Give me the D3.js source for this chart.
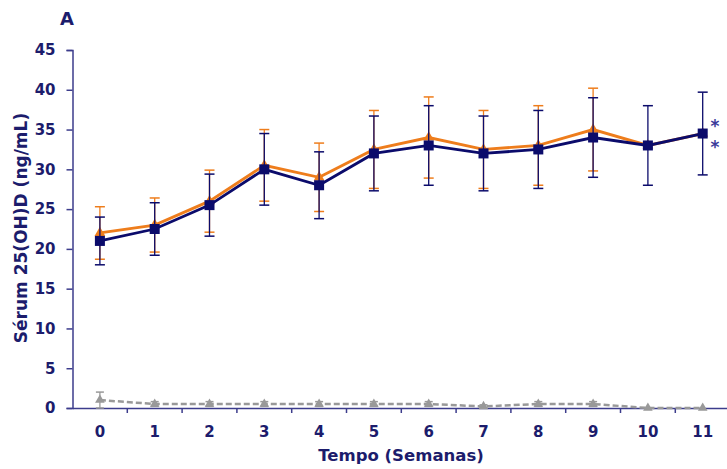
<!DOCTYPE html>
<html>
<head>
<meta charset="utf-8">
<script src="https://cdn.jsdelivr.net/npm/d3@7"></script>
<style>
  body { margin: 0; background: #fff; }
  text { font-family: "DejaVu Sans", Verdana, sans-serif; font-weight: bold; }
</style>
</head>
<body>
<svg id="chart" width="727" height="469"></svg>
<script>
var weeks = [0, 1, 2, 3, 4, 5, 6, 7, 8, 9, 10, 11];
var yTicks = [0, 5, 10, 15, 20, 25, 30, 35, 40, 45];

// serie azul (quadrados)
var navyMean = [21, 22.5, 25.5, 30, 28, 32, 33, 32, 32.5, 34, 33, 34.5];
var navyErr  = [3, 3.3, 3.9, 4.5, 4.2, 4.7, 5, 4.7, 4.9, 5, 5, 5.2];
// serie laranja (triangulos)
var orangeMean = [22, 23, 26, 30.5, 29, 32.5, 34, 32.5, 33, 35, 33, 34.5];
var orangeErr  = [3.3, 3.4, 3.9, 4.5, 4.3, 4.9, 5.1, 4.9, 5, 5.2, 0, 0];
// serie cinza (placebo)
var grayMean = [1, 0.5, 0.5, 0.5, 0.5, 0.5, 0.5, 0.2, 0.5, 0.5, 0, 0];
var grayErr  = [1, 0.3, 0.3, 0.3, 0.3, 0.3, 0.3, 0.2, 0.3, 0.3, 0, 0];

var svg = d3.select('#chart');
var mLeft = 72.5, mTop = 50, mBottom = 408;
var step = 54.8;

var x = d3.scaleBand()
  .domain(weeks)
  .range([mLeft, mLeft + step * weeks.length])
  .paddingInner(0);
var xc = function (d) { return x(d) + x.bandwidth() / 2; };

var y = d3.scaleLinear().domain([0, 45]).range([mBottom, mTop]);

var axisColor = '#3c3c8c';
var labelColor = '#1c1c6c';

// eixo y
var yAxis = svg.append('g')
  .attr('transform', 'translate(' + mLeft + ',0)')
  .call(d3.axisLeft(y).tickValues(yTicks).tickSize(6).tickPadding(11));
yAxis.select('.domain').attr('stroke', axisColor).attr('stroke-width', 1.5);
yAxis.selectAll('.tick line').attr('stroke', axisColor).attr('stroke-width', 1.5);
yAxis.selectAll('text')
  .attr('fill', labelColor)
  .style('font-size', '15px');

// eixo x
var xAxis = svg.append('g')
  .attr('transform', 'translate(0,' + mBottom + ')')
  .call(d3.axisBottom(x).tickSize(0).tickPadding(18));
xAxis.select('.domain').attr('stroke', axisColor).attr('stroke-width', 1.5);
xAxis.selectAll('text')
  .attr('fill', labelColor)
  .style('font-size', '15px');

// marcas do eixo x nos limites das categorias
xAxis.selectAll('.bound')
  .data(weeks.slice(1))
  .enter().append('line')
  .attr('class', 'bound')
  .attr('x1', function (d) { return x(d); })
  .attr('x2', function (d) { return x(d); })
  .attr('y1', 0)
  .attr('y2', 5)
  .attr('stroke', axisColor)
  .attr('stroke-width', 1.5);

var line = function (vals) {
  return d3.line()
    .x(function (d, i) { return xc(weeks[i]); })
    .y(function (d) { return y(d); })(vals);
};

function errorBars(mean, err, color, cap) {
  var g = svg.append('g');
  weeks.forEach(function (w, i) {
    if (!err[i]) return;
    var cx = xc(w);
    g.append('line')
      .attr('x1', cx).attr('x2', cx)
      .attr('y1', y(mean[i] + err[i])).attr('y2', y(mean[i] - err[i]))
      .attr('stroke', color).attr('stroke-width', 1.3);
    [mean[i] + err[i], mean[i] - err[i]].forEach(function (v) {
      g.append('line')
        .attr('x1', cx - cap).attr('x2', cx + cap)
        .attr('y1', y(v)).attr('y2', y(v))
        .attr('stroke', color).attr('stroke-width', 1.5);
    });
  });
}

var navy = '#0b0b6b';
var orange = '#ee7d1c';
var gray = '#999999';

// cinza
errorBars(grayMean, grayErr, gray, 4);
svg.append('path')
  .attr('d', line(grayMean))
  .attr('fill', 'none')
  .attr('stroke', gray)
  .attr('stroke-width', 2.5)
  .attr('stroke-dasharray', '6,3');
svg.append('g').selectAll('path')
  .data(grayMean)
  .enter().append('path')
  .attr('d', d3.symbol(d3.symbolTriangle, 40))
  .attr('transform', function (d, i) { return 'translate(' + xc(weeks[i]) + ',' + y(d) + ')'; })
  .attr('fill', gray);

// laranja
errorBars(orangeMean, orangeErr, orange, 5);
svg.append('path')
  .attr('d', line(orangeMean))
  .attr('fill', 'none')
  .attr('stroke', orange)
  .attr('stroke-width', 2.8);
svg.append('g').selectAll('path')
  .data(orangeMean)
  .enter().append('path')
  .attr('d', d3.symbol(d3.symbolTriangle, 50))
  .attr('transform', function (d, i) { return 'translate(' + xc(weeks[i]) + ',' + y(d) + ')'; })
  .attr('fill', orange);

// azul
errorBars(navyMean, navyErr, navy, 5);
svg.append('path')
  .attr('d', line(navyMean))
  .attr('fill', 'none')
  .attr('stroke', navy)
  .attr('stroke-width', 2.8);
svg.append('g').selectAll('rect')
  .data(navyMean)
  .enter().append('rect')
  .attr('x', function (d, i) { return xc(weeks[i]) - 5; })
  .attr('y', function (d) { return y(d) - 5; })
  .attr('width', 10)
  .attr('height', 10)
  .attr('fill', navy);

// asteriscos
svg.append('text')
  .attr('x', 715).attr('y', 131.5)
  .attr('text-anchor', 'middle')
  .attr('fill', '#3a3a9a')
  .style('font-size', '17px')
  .text('*');
svg.append('text')
  .attr('x', 715).attr('y', 152.5)
  .attr('text-anchor', 'middle')
  .attr('fill', '#3a3a9a')
  .style('font-size', '17px')
  .text('*');

// titulos
svg.append('text')
  .attr('x', 60).attr('y', 25)
  .attr('fill', labelColor)
  .style('font-size', '18px')
  .text('A');

svg.append('text')
  .attr('transform', 'translate(27,228) rotate(-90)')
  .attr('text-anchor', 'middle')
  .attr('fill', labelColor)
  .style('font-size', '17px')
  .text('Sérum 25(OH)D  (ng/mL)');

svg.append('text')
  .attr('x', 401).attr('y', 461)
  .attr('text-anchor', 'middle')
  .attr('fill', labelColor)
  .style('font-size', '16.5px')
  .text('Tempo (Semanas)');
</script>
</body>
</html>
